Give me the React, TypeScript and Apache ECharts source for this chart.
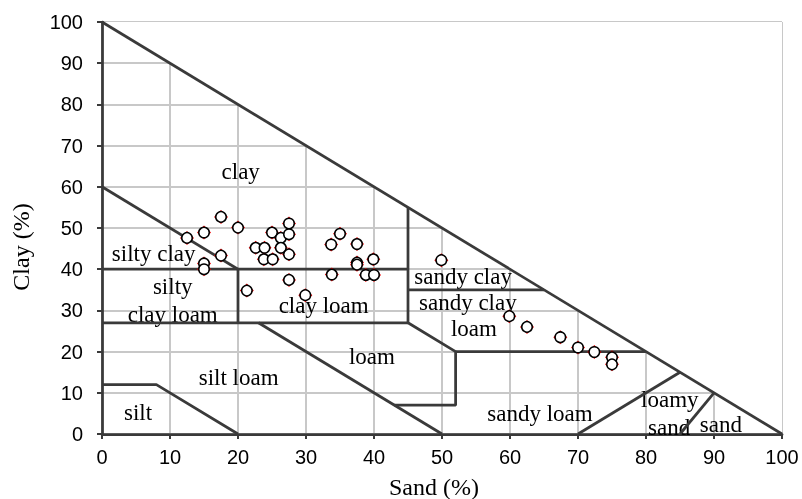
import React, { useEffect, useRef } from "react";
import * as echarts from "echarts";

// Sample points: sand (%) and clay (%)
const sandValues = [12.5, 15, 17.5, 20, 17.5, 15, 15, 22.6, 23.9, 25, 26.3, 27.5, 27.5, 26.3, 27.5, 23.8, 25.1, 21.3, 27.5, 29.9, 33.7, 35, 33.8, 37.5, 37.5, 37.5, 39.9, 38.8, 40, 49.9, 59.9, 62.5, 67.4, 70, 72.4, 75, 75];
const clayValues = [47.6, 48.9, 52.7, 50.1, 43.3, 41.4, 40, 45.2, 45.2, 48.9, 47.6, 51.1, 48.5, 45.2, 43.6, 42.4, 42.4, 34.8, 37.4, 33.7, 46.0, 48.6, 38.7, 46.1, 41.6, 41.1, 42.4, 38.6, 38.6, 42.2, 28.6, 26.0, 23.5, 21.0, 19.9, 18.6, 16.9];

// Texture class boundaries (sand, clay) polylines
const boundaries: number[][][] = [
  [[0, 100], [100, 0]],
  [[0, 60], [20, 40]],
  [[0, 40], [45, 40]],
  [[20, 40], [20, 27]],
  [[0, 27], [45, 27]],
  [[45, 55], [45, 27], [52, 20], [52, 7], [43, 7]],
  [[45, 35], [65, 35]],
  [[52, 20], [80, 20]],
  [[23, 27], [50, 0]],
  [[0, 12], [8, 12], [20, 0]],
  [[70, 0], [85, 15]],
  [[85, 0], [90, 10]],
];

// Region labels: text, sand, clay
const regionNames = ["clay", "silty clay", "silty", "clay loam", "clay loam", "sandy clay", "sandy clay", "loam", "loam", "silt loam", "silt", "sandy loam", "loamy", "sand", "sand"];
const regionSand = [20.4, 7.6, 10.4, 10.4, 32.6, 53.1, 53.8, 54.7, 39.7, 20.1, 5.3, 64.4, 83.5, 83.4, 91.0];
const regionClay = [63.6, 43.7, 35.9, 29.1, 31.3, 38.3, 32.0, 25.5, 18.7, 13.8, 5.1, 4.9, 8.3, 1.5, 2.4];

const outsideCorner = [[0, 100], [100, 100], [100, 0]];

const xTitle = "Sand (%)";
const yTitle = "Clay (%)";

const DARK = "#3a3a3a";
const GRID = "#c8c8c8";
const SERIF = "'Liberation Serif', 'Times New Roman', serif";
const SANS = "'Liberation Sans', Arial, sans-serif";

export default function App() {
  const ref = useRef<HTMLDivElement>(null);
  useEffect(() => {
    if (!ref.current) return;
    const chart = echarts.init(ref.current, null, { renderer: "svg" });
    const points = sandValues.map((s, i) => [s, clayValues[i]]);
    const labels = regionNames.map((n, i) => ({ value: [regionSand[i], regionClay[i]], name: n }));
    const axisCommon = {
      type: "value" as const,
      min: 0,
      max: 100,
      interval: 10,
      axisLine: { show: true, onZero: false, lineStyle: { color: DARK, width: 2.75 } },
      axisTick: { show: true, length: 5, lineStyle: { color: DARK, width: 2 } },
      splitLine: { show: true, lineStyle: { color: GRID, width: 2 } },
    };
    const series: any[] = [
      {
        type: "custom",
        silent: true,
        z: 1,
        renderItem: (params: any, api: any) => {
          const pts = outsideCorner.map((p) => api.coord(p));
          return { type: "polygon", shape: { points: pts }, style: { fill: "#ffffff" } };
        },
        data: [0],
      },
      {
        type: "scatter",
        silent: true,
        z: 2,
        symbolSize: 1,
        itemStyle: { color: "rgba(0,0,0,0)", opacity: 1 },
        label: {
          show: true,
          position: "inside",
          formatter: (p: any) => p.name,
          fontFamily: SERIF,
          fontSize: 23,
          color: "#000",
          opacity: 1,
          textBorderWidth: 0,
        },
        data: labels,
      },
      ...boundaries.map((b) => ({
        type: "line",
        silent: true,
        z: 3,
        showSymbol: false,
        symbol: "none",
        lineStyle: { color: DARK, width: 2.75 },
        data: b,
      })),
      {
        type: "scatter",
        silent: true,
        z: 4,
        symbol: "diamond",
        symbolSize: 14,
        itemStyle: { color: "#ee0000", opacity: 1 },
        data: points,
      },
      {
        type: "scatter",
        silent: true,
        z: 5,
        symbol: "circle",
        symbolSize: 10.5,
        itemStyle: { color: "#ffffff", borderColor: "#000", borderWidth: 1.5, opacity: 1 },
        data: points,
      },
    ];
    chart.setOption({
      animation: false,
      grid: { left: 102, right: 20, top: 22, bottom: 65, containLabel: false },
      xAxis: {
        ...axisCommon,
        axisLabel: { fontFamily: SANS, fontSize: 20, color: "#000", margin: 13 },
      },
      yAxis: {
        ...axisCommon,
        axisLabel: { fontFamily: SANS, fontSize: 20, color: "#000", margin: 19 },
      },
      graphic: [
        {
          type: "text",
          x: 434,
          y: 487,
          style: { text: xTitle, font: `24px ${SERIF}`, fill: "#000", textAlign: "center", textVerticalAlign: "middle" },
        },
        {
          type: "text",
          x: 21,
          y: 247,
          rotation: Math.PI / 2,
          style: { text: yTitle, font: `24px ${SERIF}`, fill: "#000", textAlign: "center", textVerticalAlign: "middle" },
        },
      ],
      series,
    });
    return () => chart.dispose();
  }, []);
  return <div ref={ref} style={{ position: "fixed", left: 0, top: 0, width: 802, height: 499 }} />;
}
